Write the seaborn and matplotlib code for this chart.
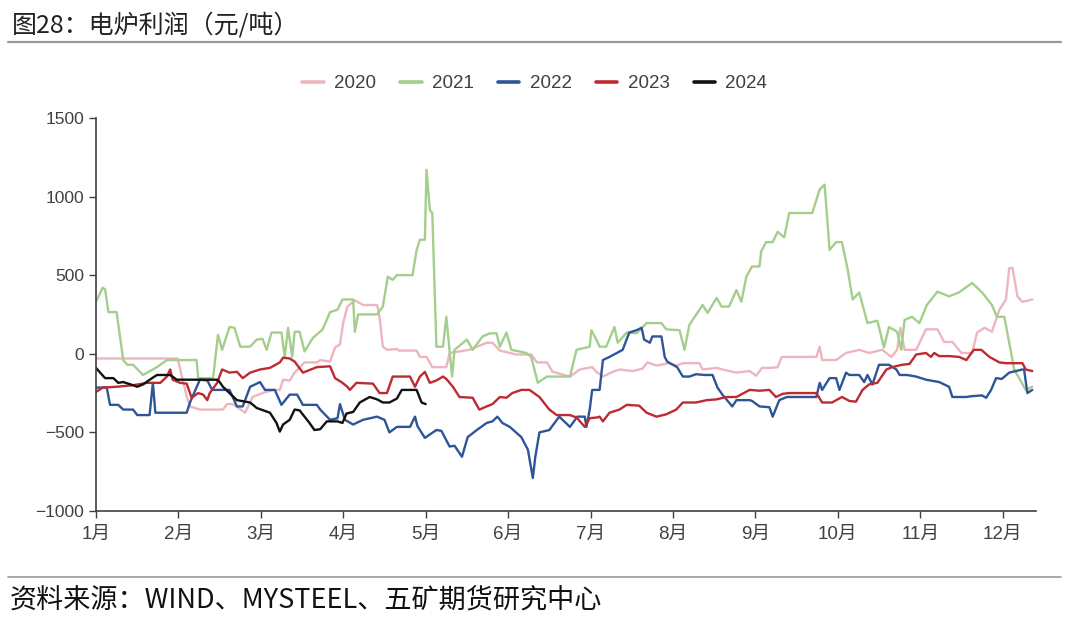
import matplotlib
matplotlib.use("Agg")
import matplotlib.pyplot as plt
from matplotlib.lines import Line2D
import numpy as np
import pandas as pd
import seaborn as sns

# x = position in months from Jan 1 (0 = 1月, 1 = 2月, ...), y = 元/吨
x_2020 = [0.01, 0.99, 1.10, 1.14, 1.26, 1.54, 1.59, 1.66, 1.81, 1.84, 1.90, 2.02, 2.15, 2.23, 2.27,
          2.35, 2.41, 2.53, 2.68, 2.72, 2.84, 2.90, 2.96, 3.00, 3.05, 3.14, 3.24, 3.41, 3.44, 3.48,
          3.53, 3.65, 3.68, 3.89, 3.93, 4.01, 4.08, 4.25, 4.29, 4.53, 4.74, 4.81, 4.90, 5.10, 5.28,
          5.35, 5.47, 5.54, 5.75, 5.87, 6.02, 6.07, 6.15, 6.27, 6.35, 6.51, 6.63, 6.69, 6.80, 6.96,
          7.04, 7.12, 7.32, 7.36, 7.53, 7.60, 7.77, 7.93, 8.01, 8.08, 8.19, 8.27, 8.32, 8.74, 8.78,
          8.81, 8.98, 9.10, 9.26, 9.38, 9.54, 9.65, 9.72, 9.76, 9.81, 9.95, 10.07, 10.21, 10.29,
          10.39, 10.50, 10.63, 10.69, 10.78, 10.87, 10.96, 11.04, 11.08, 11.12, 11.18, 11.24, 11.36]
y_2020 = [-30, -30, -270, -335, -355, -355, -320, -320, -375, -340, -275, -250, -230, -230, -165,
          -170, -120, -55, -55, -40, -50, 40, 60, 200, 300, 340, 310, 310, 235, 45,
          25, 30, 20, 20, -20, -20, -85, -85, 5, 25, 70, 70, 20, -5, -5,
          -55, -55, -115, -145, -100, -85, -115, -145, -115, -100, -110, -95, -55, -75, -60,
          -75, -60, -60, -100, -90, -100, -120, -110, -140, -90, -90, -85, -20, -20, 45,
          -40, -40, 5, 25, 5, 25, -20, 25, 165, 25, 25, 155, 155, 75,
          75, 5, 5, 135, 165, 140, 280, 345, 545, 545, 365, 330, 345]

x_2021 = [0.01, 0.08, 0.11, 0.15, 0.25, 0.33, 0.38, 0.45, 0.57, 0.74, 0.86, 1.22, 1.24, 1.42, 1.48,
          1.53, 1.62, 1.68, 1.75, 1.87, 1.95, 2.02, 2.07, 2.13, 2.25, 2.29, 2.33, 2.38, 2.41, 2.47,
          2.53, 2.63, 2.75, 2.84, 2.93, 2.99, 3.12, 3.14, 3.18, 3.41, 3.48, 3.54, 3.60, 3.65, 3.84,
          3.89, 3.93, 3.99, 4.01, 4.05, 4.08, 4.13, 4.21, 4.25, 4.32, 4.35, 4.50, 4.57, 4.69, 4.78,
          4.86, 4.90, 4.98, 5.04, 5.22, 5.28, 5.36, 5.47, 5.75, 5.83, 5.99, 6.01, 6.07, 6.11, 6.19,
          6.29, 6.33, 6.44, 6.56, 6.68, 6.86, 6.92, 7.08, 7.14, 7.20, 7.36, 7.42, 7.53, 7.59, 7.68,
          7.77, 7.83, 7.89, 7.96, 8.05, 8.07, 8.13, 8.21, 8.27, 8.35, 8.41, 8.69, 8.78, 8.84, 8.90,
          8.98, 9.05, 9.12, 9.18, 9.26, 9.36, 9.48, 9.56, 9.62, 9.72, 9.77, 9.81, 9.90, 9.99, 10.08,
          10.21, 10.35, 10.47, 10.63, 10.75, 10.87, 10.93, 11.02, 11.08, 11.14, 11.28, 11.36]
y_2021 = [340, 420, 410, 265, 265, -40, -70, -70, -135, -85, -40, -40, -155, -155, 120,
          25, 170, 165, 45, 45, 90, 95, 25, 135, 135, -20, 165, -20, 140, 140,
          15, 100, 155, 265, 280, 345, 345, 140, 250, 250, 300, 490, 470, 500, 500,
          660, 725, 725, 1170, 915, 895, 45, 45, 235, -145, 25, 90, 25, 110, 130,
          130, 45, 135, 25, 5, -20, -185, -145, -145, 25, 45, 150, 90, 45, 45,
          170, 70, 135, 130, 195, 195, 155, 150, 25, 185, 310, 260, 355, 300, 300,
          405, 330, 490, 555, 555, 650, 710, 710, 775, 740, 895, 895, 1045, 1075, 660,
          710, 710, 535, 345, 390, 195, 210, 40, 170, 140, 25, 215, 235, 195, 310,
          395, 365, 390, 450, 390, 310, 235, 235, 70, -100, -230, -210]

x_2022 = [0.01, 0.13, 0.17, 0.27, 0.33, 0.45, 0.50, 0.65, 0.69, 0.72, 1.10, 1.14, 1.26, 1.35, 1.41,
          1.62, 1.71, 1.78, 1.87, 1.99, 2.05, 2.17, 2.25, 2.35, 2.44, 2.51, 2.68, 2.72, 2.84, 2.93,
          2.96, 3.02, 3.12, 3.24, 3.41, 3.50, 3.56, 3.65, 3.81, 3.87, 3.90, 3.99, 4.13, 4.19, 4.29,
          4.35, 4.44, 4.51, 4.62, 4.74, 4.81, 4.87, 4.93, 5.02, 5.16, 5.24, 5.30, 5.33, 5.38, 5.50,
          5.62, 5.75, 5.84, 5.93, 5.95, 5.99, 6.02, 6.11, 6.15, 6.23, 6.32, 6.39, 6.47, 6.56, 6.62,
          6.65, 6.72, 6.75, 6.86, 6.90, 6.93, 7.05, 7.12, 7.20, 7.28, 7.38, 7.48, 7.54, 7.60, 7.72,
          7.77, 7.93, 7.96, 8.05, 8.17, 8.21, 8.29, 8.38, 8.74, 8.78, 8.81, 8.90, 8.98, 9.02, 9.10,
          9.14, 9.26, 9.32, 9.36, 9.42, 9.50, 9.62, 9.71, 9.75, 9.84, 9.95, 10.07, 10.23, 10.35,
          10.39, 10.56, 10.62, 10.75, 10.80, 10.86, 10.92, 10.99, 11.08, 11.24, 11.26, 11.30, 11.36]
y_2022 = [-215, -215, -325, -325, -355, -355, -390, -390, -185, -375, -375, -310, -165, -170, -230,
          -230, -335, -335, -210, -180, -230, -230, -325, -260, -260, -325, -325, -355, -420, -410,
          -320, -420, -450, -420, -400, -420, -500, -465, -465, -400, -460, -535, -485, -490, -590,
          -585, -655, -530, -485, -440, -430, -400, -440, -465, -530, -610, -790, -655, -500, -485,
          -400, -465, -400, -400, -465, -355, -230, -230, -40, -20, 5, 25, 135, 150, 165,
          90, 70, 110, 110, -20, -50, -85, -145, -145, -130, -135, -135, -215, -260, -335,
          -295, -295, -300, -335, -340, -400, -295, -275, -275, -185, -230, -155, -155, -230, -120,
          -135, -135, -180, -135, -195, -70, -70, -100, -135, -135, -145, -165, -180, -210,
          -275, -275, -270, -265, -280, -230, -155, -160, -120, -100, -100, -250, -230]

x_2023 = [0.01, 0.08, 0.25, 0.45, 0.62, 0.78, 0.86, 0.90, 0.93, 1.02, 1.10, 1.16, 1.24, 1.30, 1.35,
          1.38, 1.47, 1.53, 1.62, 1.71, 1.78, 1.87, 1.99, 2.11, 2.23, 2.27, 2.35, 2.41, 2.51, 2.68,
          2.84, 2.90, 2.99, 3.05, 3.08, 3.16, 3.36, 3.44, 3.53, 3.60, 3.81, 3.87, 3.93, 3.99, 4.05,
          4.13, 4.21, 4.25, 4.33, 4.41, 4.57, 4.65, 4.74, 4.81, 4.90, 4.98, 5.05, 5.16, 5.26, 5.38,
          5.50, 5.59, 5.75, 5.83, 5.93, 5.99, 6.08, 6.11, 6.15, 6.23, 6.35, 6.44, 6.59, 6.68, 6.80,
          6.92, 7.04, 7.12, 7.28, 7.41, 7.53, 7.65, 7.77, 7.93, 8.05, 8.17, 8.25, 8.33, 8.41, 8.74,
          8.81, 8.93, 9.05, 9.14, 9.22, 9.30, 9.38, 9.48, 9.59, 9.66, 9.78, 9.87, 9.95, 10.07, 10.13,
          10.17, 10.23, 10.35, 10.47, 10.56, 10.65, 10.74, 10.84, 10.96, 11.04, 11.24, 11.28, 11.36]
y_2023 = [-240, -215, -210, -200, -185, -185, -145, -100, -165, -185, -190, -280, -250, -260, -295,
          -250, -185, -100, -120, -115, -155, -120, -100, -90, -55, -25, -30, -50, -120, -85,
          -80, -155, -185, -210, -230, -185, -190, -250, -250, -145, -145, -210, -145, -115, -185,
          -170, -145, -160, -210, -275, -280, -355, -335, -320, -275, -280, -250, -230, -230, -275,
          -355, -390, -390, -405, -465, -410, -405, -400, -430, -375, -355, -325, -330, -375, -400,
          -385, -355, -310, -310, -295, -290, -275, -275, -230, -235, -230, -275, -255, -250, -250,
          -310, -310, -275, -300, -305, -230, -195, -185, -100, -85, -70, -65, -5, 5, -20,
          5, -15, -15, -20, -40, 25, 25, -20, -55, -60, -60, -100, -110]

x_2024 = [0.00, 0.05, 0.11, 0.21, 0.27, 0.33, 0.45, 0.50, 0.57, 0.68, 0.74, 0.90, 0.98, 1.47, 1.50,
          1.54, 1.62, 1.71, 1.87, 1.95, 2.11, 2.19, 2.23, 2.27, 2.35, 2.41, 2.47, 2.59, 2.65, 2.72,
          2.80, 2.93, 2.99, 3.04, 3.12, 3.20, 3.32, 3.41, 3.48, 3.56, 3.65, 3.71, 3.89, 3.95, 4.00]
y_2024 = [-90, -120, -155, -155, -185, -180, -200, -210, -195, -155, -135, -135, -165, -165, -180,
          -210, -250, -295, -310, -345, -375, -440, -495, -450, -420, -355, -360, -440, -485, -480,
          -430, -430, -440, -380, -370, -310, -275, -290, -310, -310, -285, -230, -230, -310, -320]

years = ["2020", "2021", "2022", "2023", "2024"]
colors = ["#EDB6BF", "#A3CE8C", "#2E5597", "#BE2A32", "#111111"]
month_labels = [f"{i}月" for i in range(1, 13)]

frames = []
for yr, xs, ys in zip(years, [x_2020, x_2021, x_2022, x_2023, x_2024],
                      [y_2020, y_2021, y_2022, y_2023, y_2024]):
    frames.append(pd.DataFrame({"month": xs, "profit": ys, "year": yr}))
df = pd.concat(frames, ignore_index=True)

sns.set_style("ticks")
plt.rcParams["font.family"] = ["Liberation Sans", "Noto Sans CJK SC", "DejaVu Sans"]
plt.rcParams["axes.unicode_minus"] = False

fig = plt.figure(figsize=(10.8, 6.27), dpi=100)
ax = fig.add_axes([0.0889, 0.185, 0.870, 0.627])

sns.lineplot(data=df, x="month", y="profit", hue="year", palette=dict(zip(years, colors)),
             estimator=None, sort=False, linewidth=1.7, ax=ax)

ax.set_xlim(0, 11.4)
ax.set_ylim(-1000, 1500)
ax.set_yticks([-1000, -500, 0, 500, 1000, 1500])
ax.set_yticklabels(["\u22121000", "\u2212500", "0", "500", "1000", "1500"])
ax.set_xticks(np.arange(12))
ax.set_xticklabels(month_labels)
ax.set_xlabel("")
ax.set_ylabel("")
ax.tick_params(axis="both", colors="#404040", length=5, width=1)
ax.tick_params(axis="y", labelsize=12.5)
ax.tick_params(axis="x", labelsize=13.5, pad=6)
sns.despine(ax=ax)
for s in ["left", "bottom"]:
    ax.spines[s].set_color("#404040")
    ax.spines[s].set_linewidth(1.2)

handles, labels = ax.get_legend_handles_labels()
for h in handles:
    h.set_linewidth(2.6)
    h.set_solid_capstyle("round")
ax.legend(handles, labels, loc="center", bbox_to_anchor=(0.467, 1.087), ncol=5, frameon=False,
          fontsize=13.5, handlelength=1.15, columnspacing=1.28, handletextpad=0.55)
for t in ax.get_legend().get_texts():
    t.set_color("#404040")

cjk = ["Noto Sans CJK SC", "DejaVu Sans"]
fig.text(0.011, 0.960, "图28：电炉利润（元/吨）", fontsize=18, color="#222222", va="center",
         ha="left", family=cjk, weight="medium")
fig.add_artist(Line2D([0.007, 0.982], [0.933, 0.933], color="#999999", linewidth=1.6))
fig.add_artist(Line2D([0.007, 0.982], [0.080, 0.080], color="#999999", linewidth=1.2))
fig.text(0.009, 0.043, "资料来源：WIND、MYSTEEL、五矿期货研究中心", fontsize=19.5, color="#111111",
         va="center", ha="left", family=cjk, weight="medium")

fig.savefig("out.png", dpi=100)
